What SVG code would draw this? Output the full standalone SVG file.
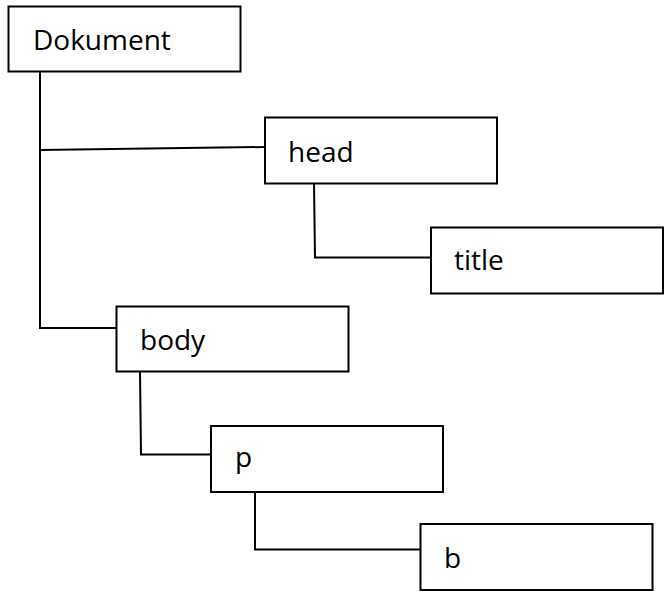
<svg xmlns="http://www.w3.org/2000/svg" width="670" height="598" viewBox="0 0 670 598">
<style>
.box{fill:#fff;stroke:#000;stroke-width:2}
.lbl{font-family:"Open Sans","Liberation Sans",sans-serif;font-size:28px;fill:#000}
.con{fill:none;stroke:#000;stroke-width:2}
</style>
<rect width="670" height="598" fill="#fff"/>
<g id="connectors">
<polyline class="con" points="40,72 40,328 116,328"/>
<polyline class="con" points="40,150 265,147"/>
<polyline class="con" points="314,183 315,257.5 431,257.5"/>
<polyline class="con" points="140,372 141,454.5 211,454.5"/>
<polyline class="con" points="255,492 255,549.5 420,549.5"/>
</g>
<g id="dokument"><rect class="box" x="8.5" y="6.5" width="232" height="65"/><text class="lbl" x="33" y="50">Dokument</text></g>
<g id="head"><rect class="box" x="265" y="117.5" width="232" height="66"/><text class="lbl" x="288" y="162">head</text></g>
<g id="title"><rect class="box" x="431" y="227.5" width="232" height="66"/><text class="lbl" x="454" y="270">title</text></g>
<g id="body"><rect class="box" x="116.5" y="306.5" width="232" height="65"/><text class="lbl" x="140" y="350">body</text></g>
<g id="p"><rect class="box" x="211" y="426" width="232" height="66"/><text class="lbl" x="235" y="467">p</text></g>
<g id="b"><rect class="box" x="420.5" y="524" width="232" height="66"/><text class="lbl" x="444" y="568">b</text></g>
</svg>
